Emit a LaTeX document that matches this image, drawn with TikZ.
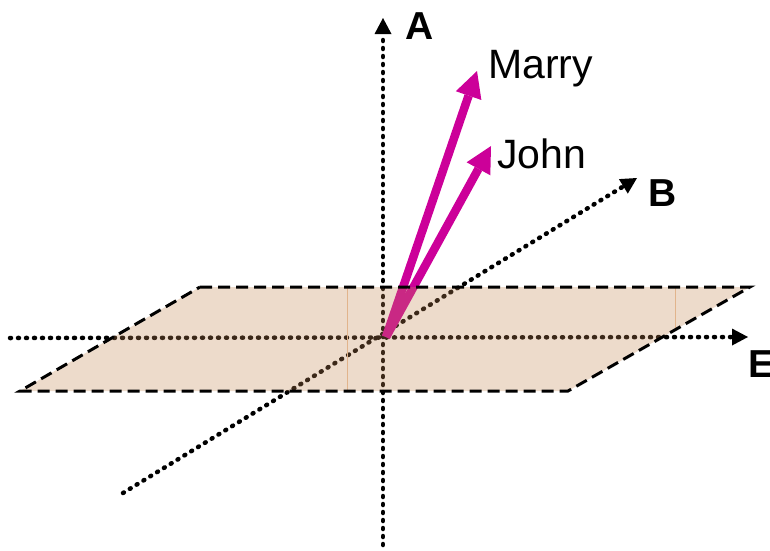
\documentclass[tikz,border=0pt]{standalone}
\usepackage{fontspec}
\setmainfont{Liberation Sans}
\usetikzlibrary{arrows.meta}
\definecolor{mag}{RGB}{204,0,153}
\definecolor{planec}{RGB}{196,135,84}
\definecolor{seam}{RGB}{225,180,140}
\begin{document}
\begin{tikzpicture}[x=1pt,y=-1pt,
  axis/.style={line width=4.5pt, dash pattern=on 1pt off 7pt, line cap=round,
    -{Triangle[width=17pt,length=16pt,line width=0pt]}},
  vec/.style={mag, line width=8.5pt, -{Triangle[width=27pt,length=26pt,line width=0pt]}},
  lab/.style={inner sep=0pt, anchor=base west, font=\fontsize{41}{45}\selectfont},
  blab/.style={inner sep=0pt, anchor=base west, font=\fontsize{39}{43}\selectfont\bfseries},
  border/.style={line width=3pt, dash pattern=on 12pt off 6pt}]
\useasboundingbox (0,0) rectangle (770,550);
% coordinates
\coordinate (O) at (386,337);
\coordinate (Abot) at (383,545);
\coordinate (Atop) at (383,18);
\coordinate (Eleft) at (10,338);
\coordinate (Eright) at (748,337);
\coordinate (Bbot) at (123,493);
\coordinate (Btop) at (637,178);
\coordinate (Mtip) at (477,71);
\coordinate (Jtip) at (491,146);
\coordinate (p1) at (200,287);
\coordinate (p2) at (750,287);
\coordinate (p3) at (568,391);
\coordinate (p4) at (20,391);
% axes
\draw[axis] (Abot) -- (Atop);
\draw[axis] (Eleft) -- (Eright);
\draw[axis] (Bbot) -- (Btop);
% vectors
\draw[vec] (O) -- (Mtip);
\draw[vec] (O) -- (Jtip);
% plane
\fill[planec, opacity=0.3] (p1) -- (p2) -- (p3) -- (p4) -- cycle;
\coordinate (s1t) at (347,288);
\coordinate (s1b) at (347,390);
\coordinate (s2t) at (675,288);
\coordinate (s2b) at (675,329);
\draw[seam, line width=0.6pt] (s1t) -- (s1b);
\draw[seam, line width=0.6pt] (s2t) -- (s2b);
\draw[border] (p1) -- (p2) -- (p3) -- (p4) -- cycle;
% labels
\node[blab] (A) at (405,39) {A};
\node[lab] (Marry) at (488,78) {Marry};
\node[lab] (John) at (497,168) {John};
\node[blab] (B) at (648,206) {B};
\node[blab] (E) at (748,377) {E};
\end{tikzpicture}
\end{document}
